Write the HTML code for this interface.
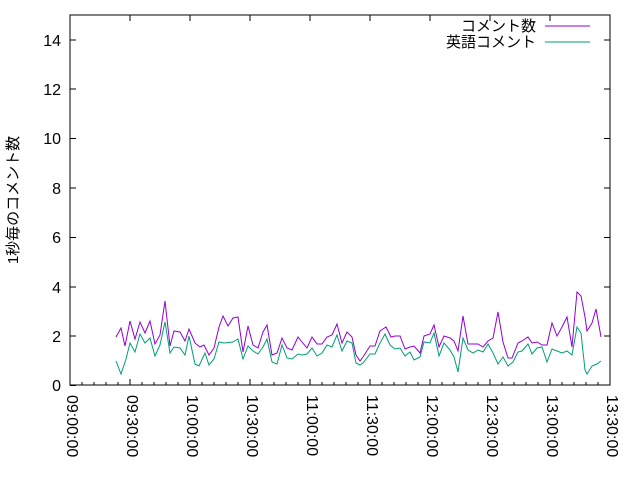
<!DOCTYPE html>
<html><head><meta charset="utf-8"><style>body{margin:0;background:#fff}svg{display:block}text{font-family:"Liberation Sans","Noto Sans CJK JP",sans-serif;font-size:16px;fill:#000}</style></head><body>
<svg width="640" height="480" viewBox="0 0 640 480" xmlns="http://www.w3.org/2000/svg">
<rect x="70" y="15" width="540" height="370" fill="none" stroke="#000" stroke-width="1"/>
<g stroke="#000" stroke-width="1">
<path d="M70 385.5h6M70 336h6M70 287h6M70 237.5h6M70 188h6M70 138.5h6M70 89h6M70 40h6M610 336h-6M610 287h-6M610 237.5h-6M610 188h-6M610 138.5h-6M610 89h-6M610 40h-6"/>
<path d="M70 385v-6M130 385v-6M190 385v-6M250 385v-6M310 385v-6M370 385v-6M430 385v-6M490 385v-6M550 385v-6M610 385v-6M70 15v6M130 15v6M190 15v6M250 15v6M310 15v6M370 15v6M430 15v6M490 15v6M550 15v6"/>
<path d="M82 385v-3M94 385v-3M106 385v-3M118 385v-3M142 385v-3M154 385v-3M166 385v-3M178 385v-3M202 385v-3M214 385v-3M226 385v-3M238 385v-3M262 385v-3M274 385v-3M286 385v-3M298 385v-3M322 385v-3M334 385v-3M346 385v-3M358 385v-3M382 385v-3M394 385v-3M406 385v-3M418 385v-3M442 385v-3M454 385v-3M466 385v-3M478 385v-3M502 385v-3M514 385v-3M526 385v-3M538 385v-3M562 385v-3M574 385v-3M586 385v-3M598 385v-3"/>
</g>
<g text-anchor="end">
<text x="61" y="391">0</text><text x="61" y="342">2</text><text x="61" y="293">4</text><text x="61" y="243">6</text><text x="61" y="194">8</text><text x="61" y="144">10</text><text x="61" y="95">12</text><text x="61" y="46">14</text>
</g>
<g style="font-size:19px">
<text transform="translate(67,395) rotate(90)">09:00:00</text>
<text transform="translate(127,395) rotate(90)">09:30:00</text>
<text transform="translate(187,395) rotate(90)">10:00:00</text>
<text transform="translate(247,395) rotate(90)">10:30:00</text>
<text transform="translate(307,395) rotate(90)">11:00:00</text>
<text transform="translate(367,395) rotate(90)">11:30:00</text>
<text transform="translate(427,395) rotate(90)">12:00:00</text>
<text transform="translate(487,395) rotate(90)">12:30:00</text>
<text transform="translate(547,395) rotate(90)">13:00:00</text>
<text transform="translate(607,395) rotate(90)">13:30:00</text>
</g>
<text transform="translate(18,200) rotate(-90)" text-anchor="middle" style="font-size:15px">1秒毎のコメント数</text>
<text x="536" y="31" text-anchor="end" style="font-size:15px">コメント数</text>
<text x="536" y="47" text-anchor="end" style="font-size:15px">英語コメント</text>
<path d="M545 26h45" stroke="#9400d3"/>
<path d="M545 42h45" stroke="#009e73"/>
<polyline fill="none" stroke="#9400d3" stroke-width="1" points="116,337 121,328 125,346 130,321 135,339 140,322 145,333 150,321 155,344 160,335 165,301 170,346 174,331 180,332 185,341 189,329 195,343 200,347 204,345 209,355 214,348 219,327 223,316 228,326 233,318 238,317 243,352 248,326 253,345 258,348 263,332 267,325 272,355 277,353 282,338 287,348 292,350 298,337 302,342 307,348 312,337 317,344 322,344 327,337 332,335 337,324 342,343 347,332 352,337 356,355 360,361 363,357 370,346 375,346 380,331 386,327 391,337 395,336 400,336 405,349 410,347 414,346 420,353 424,336 430,334 434,325 439,347 444,336 450,338 454,341 458,351 463,316 468,344 478,344 483,347 488,341 493,338 498,312 503,342 508,358 512,358 518,343 522,341 528,337 532,343 537,342 542,345 547,345 552,323 557,336 562,327 567,317 572,347 577,292 581,296 585,317 587,331 592,323 596,309 601,337"/>
<polyline fill="none" stroke="#009e73" stroke-width="1" points="116,361 121,374 126,359 130,343 135,352 140,334 145,343 150,338 155,356 160,345 165,322 170,353 174,347 180,348 185,355 189,336 195,364 199,366 205,353 209,365 214,359 219,342 224,343 233,342 238,339 243,359 248,346 253,351 258,354 263,347 267,339 272,362 277,364 282,345 287,358 292,359 298,354 302,355 307,354 312,348 317,356 322,353 327,345 332,347 337,335 342,351 347,341 352,343 356,363 360,365 363,363 370,354 375,354 380,343 385,334 390,345 395,349 400,348 405,356 410,352 414,360 420,357 424,342 430,343 434,333 439,356 444,343 450,350 454,357 458,372 463,338 468,350 473,353 478,350 483,352 488,344 493,353 498,364 503,357 508,366 513,362 518,352 522,351 528,344 532,354 537,348 542,347 547,362 552,349 557,351 562,353 567,351 572,355 577,327 581,333 585,370 587,374 592,366 597,364 601,361"/>
</svg>
</body></html>
